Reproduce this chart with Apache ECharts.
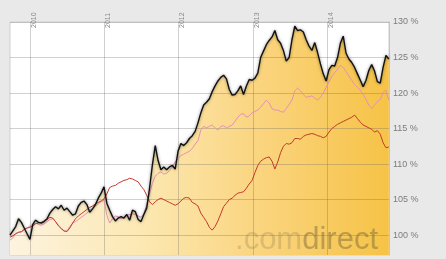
<!DOCTYPE html>
<html>
<head>
<meta charset="utf-8">
<script src="https://cdn.jsdelivr.net/npm/echarts@6/dist/echarts.min.js"></script>
<style>
html,body{margin:0;padding:0;background:#e9e9e9;}
#chart{width:446px;height:259px;}
</style>
</head>
<body>
<div id="chart"></div>
<script>
// Zeitachse: alle 14 Tage ab 24.09.2009
var startDate = new Date(2009, 8, 24);
var stepDays = 14;
var yearTicks = [2010, 2011, 2012, 2013, 2014];
var pctTicks = [100, 105, 110, 115, 120, 125, 130];

// schwarze Linie (mit Flaeche)
var blackLine = [
    100, 100.6, 101.2, 102.3, 101.8, 101, 100.2, 99.4, 101.5, 102.1,
    101.8, 101.7, 101.9, 102.3, 103.1, 103.6, 104, 103.7, 104.2, 103.5,
    103.8, 103.3, 102.8, 103, 104.1, 104.6, 104.8, 104.3, 103.2, 103.7,
    104.3, 105.2, 105.9, 106.8, 104.5, 103.5, 102.6, 102, 102.4, 102.6,
    102.4, 102.9, 102.1, 103.5, 103.3, 102.2, 101.9, 102.9, 103.8, 106.6,
    109.9, 112.6, 110.5, 109.2, 109.6, 109.2, 109.6, 109.8, 109.3, 111.8,
    112.9, 112.6, 113, 113.6, 114, 114.6, 115.8, 117.2, 118.3, 118.7,
    119.2, 120.2, 121, 121.7, 122.2, 122.5, 122, 120.5, 119.7, 119.8,
    120.3, 121, 119.8, 121, 121.9, 121.8, 122.1, 122.8, 125, 125.9,
    126.8, 127.4, 127.9, 128.8, 127.5, 127, 126, 124.5, 125, 127.5,
    129.4, 128.8, 128.9, 128.6, 127.5, 126.6, 126, 127.1, 125.7, 124.1,
    122.7, 121.7, 123.3, 123.9, 123.8, 125, 127, 128, 125.6, 124.8,
    124.3, 123.6, 122.7, 121.8, 120.9, 121.8, 123.2, 124, 123.1, 121.6,
    121.4, 123.6, 125.3, 124.8
];
// rosa Linie
var pinkLine = [
    99.3, 99.6, 100.2, 100.4, 100.4, 100.8, 101, 101.3, 101.5, 101.7,
    101.5, 101.4, 101.6, 101.9, 102.2, 102.3, 101.9, 101.4, 101, 100.5,
    100.6, 101.2, 101.7, 101.9, 102.2, 102.5, 102.8, 103.1, 103.5, 103.8,
    104.1, 104.4, 104.7, 104.9, 102.8, 101.7, 102.3, 102.7, 102.6, 102.3,
    102.5, 102.8, 102.9, 103, 102.9, 102.7, 102.5, 103, 104.3, 105.8,
    107.3, 108.3, 108.7, 108.9, 108.6, 108.7, 109.1, 109.6, 110.3, 110.8,
    111.2, 111.4, 111.6, 111.8, 112.2, 112.8, 113.3, 114.8, 115.3, 115.1,
    115.3, 115.5, 115.1, 114.8, 115.3, 115.4, 115.1, 115.3, 115.5, 116,
    116.6, 117, 117.1, 116.6, 116.8, 117.2, 117.4, 117.6, 118, 118.5,
    119, 118.6, 117.8, 117.6, 117.6, 117.4, 117.3, 117.8, 118.4, 119,
    120.3, 120.7, 120.3, 119.8, 119.4, 119.5, 119.6, 119.3, 119, 119.4,
    120, 120.8, 121.6, 122.3, 122.9, 123.3, 123.9, 123.6, 123, 122.4,
    121.8, 121.2, 120.8, 120.4, 119.8, 119.1, 118.3, 117.8, 118.3, 118.8,
    119.1, 120.1, 120.4, 119
];
// rote Linie
var redLine = [
    99.7, 99.9, 100.2, 100.4, 100.5, 100.8, 101, 101.1, 101.3, 101.6,
    101.7, 101.8, 102, 102.2, 102.5, 102.4, 101.9, 101.3, 100.9, 100.6,
    100.5, 101, 101.7, 102.3, 102.7, 103, 103.3, 103.6, 103.9, 104.1,
    104.4, 104.6, 104.8, 105.1, 105.8, 106.7, 106.9, 107, 107.3, 107.5,
    107.7, 107.8, 108, 107.9, 107.7, 107.5, 106.9, 106.4, 105.6, 104.7,
    104.3, 104.7, 105, 105.2, 105, 104.8, 104.6, 104.4, 104.2, 104.4,
    104.8, 105.2, 105.3, 105.2, 104.6, 104.4, 104.1, 103.1, 102.5, 101.9,
    101.1, 100.7, 101.2, 102, 103, 104, 104.5, 105, 105.2, 105.6,
    105.9, 106, 106.1, 106.6, 107.2, 107.7, 108.8, 109.8, 110.4, 110.7,
    110.9, 111, 110.4, 109.3, 110.3, 111.6, 112.5, 112.9, 112.8, 113,
    113.6, 113.6, 113.5, 113.9, 114.1, 114.2, 114.3, 114.2, 114, 113.9,
    113.7, 113.9, 114.5, 115, 115.3, 115.6, 115.8, 116, 116.2, 116.4,
    116.6, 116.9, 116.4, 115.9, 115.5, 115.3, 115.1, 114.9, 114.5, 114.7,
    114.2, 113, 112.3, 112.4
];

function dayAt(i) {
    return new Date(startDate.getFullYear(), startDate.getMonth(), startDate.getDate() + i * stepDays).getTime();
}
var dates = blackLine.map(function (v, i) { return dayAt(i); });
var yearStamps = yearTicks.map(function (y) { return new Date(y, 0, 1).getTime(); });
function pairs(arr) {
    return arr.map(function (v, i) { return [dates[i], v]; });
}

var gridColor = 'rgba(100,100,100,0.3)';
var chart = echarts.init(document.getElementById('chart'));
var option = {
    animation: false,
    backgroundColor: '#e9e9e9',
    grid: {
        left: 10, right: 57, top: 22, bottom: 4,
        show: true,
        backgroundColor: '#ffffff',
        borderColor: '#cfcfcf',
        borderWidth: 1
    },
    xAxis: {
        type: 'value',
        position: 'top',
        min: dates[0],
        max: dates[dates.length - 1] + 86400000,
        z: 5,
        axisLine: {show: false},
        axisTick: {show: false, customValues: yearStamps},
        axisLabel: {
            customValues: yearStamps,
            rotate: -90,
            margin: -6,
            align: 'left',
            verticalAlign: 'top',
            fontSize: 7,
            color: '#8a8a8a',
            fontFamily: 'Liberation Sans',
            formatter: function (v) { return String(new Date(v).getFullYear()); }
        },
        splitLine: {show: true, lineStyle: {color: gridColor, width: 1}}
    },
    yAxis: {
        type: 'value',
        position: 'right',
        min: 97.2,
        max: 130,
        z: 5,
        axisLine: {show: true, lineStyle: {color: '#c4c4c4'}},
        axisTick: {show: false, customValues: pctTicks},
        axisLabel: {
            customValues: pctTicks,
            margin: 4,
            fontSize: 9,
            color: '#7c7c7c',
            fontFamily: 'Liberation Sans',
            formatter: '{value} %'
        },
        splitLine: {show: true, lineStyle: {color: gridColor, width: 1}}
    },
    graphic: [
        {
            type: 'text',
            right: 68,
            bottom: 3,
            z: 10,
            style: {
                text: '{a|.com}{b|direct}',
                rich: {
                    a: {fontSize: 31, fontFamily: 'Liberation Sans', fill: 'rgba(150,135,90,0.32)'},
                    b: {fontSize: 31, fontFamily: 'Liberation Sans', fill: 'rgba(125,110,55,0.5)'}
                }
            }
        }
    ],
    series: [
        {
            name: 'Fläche',
            type: 'line',
            data: pairs(blackLine),
            showSymbol: false,
            lineStyle: {width: 0},
            z: 1,
            areaStyle: {
                origin: 'start',
                opacity: 1,
                color: new echarts.graphic.LinearGradient(0, 0, 1, 0, [
                    {offset: 0, color: '#fdf3df'},
                    {offset: 0.35, color: '#fce8b2'},
                    {offset: 0.7, color: '#fad278'},
                    {offset: 1, color: '#f6c346'}
                ])
            }
        },
        {
            name: 'rosa',
            type: 'line',
            data: pairs(pinkLine),
            showSymbol: false,
            z: 6,
            lineStyle: {width: 1, color: '#e391b5'}
        },
        {
            name: 'rot',
            type: 'line',
            data: pairs(redLine),
            showSymbol: false,
            z: 6,
            lineStyle: {width: 1, color: '#c23a2a'}
        },
        {
            name: 'schwarz',
            type: 'line',
            data: pairs(blackLine),
            showSymbol: false,
            z: 7,
            lineStyle: {width: 1.4, color: '#121212', shadowColor: 'rgba(0,0,0,0.5)', shadowBlur: 3}
        }
    ]
};
chart.setOption(option);
window.onresize = chart.resize;
</script>
</body>
</html>
